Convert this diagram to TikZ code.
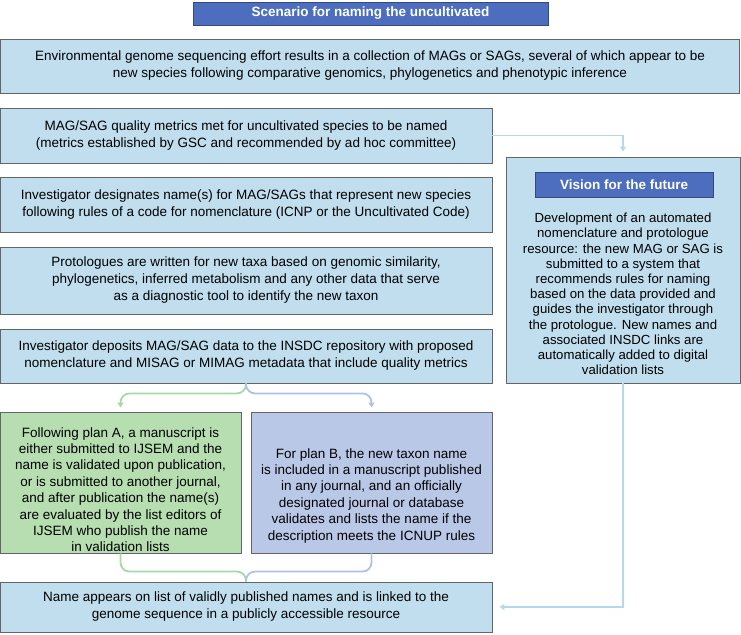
\documentclass[tikz,border=0pt]{standalone}
\usepackage{fontspec}
\setmainfont{Liberation Sans}
\usepackage{tikz}
\usepackage{xcolor}
\usetikzlibrary{arrows.meta,positioning,calc}
\definecolor{frame}{HTML}{62666A}
\definecolor{skybg}{HTML}{C0DEEE}
\definecolor{leafbg}{HTML}{B6DEB0}
\definecolor{lilacbg}{HTML}{BAC8E8}
\definecolor{headblue}{HTML}{4D6EBF}
\definecolor{headline}{HTML}{34497F}
\definecolor{skyline}{HTML}{B4D9EF}
\definecolor{leafline}{HTML}{A6DAA3}
\definecolor{lilacline}{HTML}{AFC1EA}
\tikzset{
  stagebox/.style={draw=frame,fill=skybg,line width=0.9pt,
                   align=center,inner sep=0pt,
                   font=\fontsize{13.5}{17}\selectfont},
  planAbox/.style={stagebox,fill=leafbg,minimum width=241,minimum height=141,
                   font=\fontsize{13.5}{16.4}\selectfont},
  planBbox/.style={planAbox,fill=lilacbg},
  headbar/.style={draw=headline,fill=headblue,line width=0.7pt,text=white,
                  inner sep=0pt,font=\fontsize{13.5}{16}\selectfont\bfseries},
  skylink/.style={draw=skyline,line width=1.8pt},
  leaflink/.style={draw=leafline,line width=1.8pt,rounded corners=9pt},
  lilaclink/.style={draw=lilacline,line width=1.8pt,rounded corners=9pt},
  tiparr/.style={-{Triangle[length=5pt,width=6pt]}}
}
\begin{document}
\begin{tikzpicture}[x=1pt,y=-1pt]
  \useasboundingbox (0,0) rectangle (741,634);
  % left column
  \node[headbar,minimum width=355,minimum height=23] (title) at (370.5,13.5)
    {Scenario for naming the uncultivated};
  \node[stagebox,minimum width=739,minimum height=54] (survey) at (370,66)
    {Environmental genome sequencing effort results in a collection of MAGs or SAGs, several of which appear to be\\
     new species following comparative genomics, phylogenetics and phenotypic inference};
  \node[stagebox,minimum width=492,minimum height=55] (metrics) at (246,135.5)
    {MAG/SAG quality metrics met for uncultivated species to be named\\
     (metrics established by GSC and recommended by ad hoc committee)};
  \node[stagebox,minimum width=492,minimum height=55] (naming) at (246,204.5)
    {Investigator designates name(s) for MAG/SAGs that represent new species\\
     following rules of a code for nomenclature (ICNP or the Uncultivated Code)};
  \node[stagebox,minimum width=492,minimum height=67] (protologue) at (246,280.5)
    {Protologues are written for new taxa based on genomic similarity,\\
     phylogenetics, inferred metabolism and any other data that serve\\
     as a diagnostic tool to identify the new taxon};
  \node[stagebox,minimum width=492,minimum height=54] (deposit) at (246,356)
    {Investigator deposits MAG/SAG data to the INSDC repository with proposed\\
     nomenclature and MISAG or MIMAG metadata that include quality metrics};
  \node[planAbox] (planA) at (120.5,482.5)
    {\rule{0pt}{24pt}Following plan A, a manuscript is\\
     either submitted to IJSEM and the\\
     name is validated upon publication,\\
     or is submitted to another journal,\\
     and after publication the name(s)\\
     are evaluated by the list editors of\\
     IJSEM who publish the name\\
     in validation lists};
  \node[planBbox] (planB) at (371.5,482.5)
    {\rule{0pt}{36pt}For plan B, the new taxon name\\
     is included in a manuscript published\\
     in any journal, and an officially\\
     designated journal or database\\
     validates and lists the name if the\\
     description meets the ICNUP rules};
  \node[stagebox,minimum width=492,minimum height=50] (final) at (246,607)
    {Name appears on list of validly published names and is linked to the\\
     genome sequence in a publicly accessible resource};
  % right column
  \node[stagebox,minimum width=234,minimum height=226] (vision) at (623,270) {};
  \node[headbar,minimum width=178,minimum height=25] (visiontitle) at (624,184.5)
    {Vision for the future};
  \node[align=center,inner sep=0pt,font=\fontsize{13.2}{15.2}\selectfont] (visiontext) at (623,294)
    {Development of an automated\\
     nomenclature and protologue\\
     resource: the new MAG or SAG is\\
     submitted to a system that\\
     recommends rules for naming\\
     based on the data provided and\\
     guides the investigator through\\
     the protologue. New names and\\
     associated INSDC links are\\
     automatically added to digital\\
     validation lists};
  % connectors
  \coordinate (fork) at ($(deposit.south)+(0,10)$);
  \coordinate (merge) at ($(final.north)+(0,-10)$);
  \draw[skylink,tiparr,shorten >=5pt] (metrics.east) -| (vision.north);
  \draw[skylink,tiparr,shorten >=7pt] (vision.south) |- (final.east);
  \draw[leaflink,tiparr,shorten >=4pt] (deposit.south) -- (fork) -| (planA.north);
  \draw[lilaclink,tiparr,shorten >=4pt] (deposit.south) -- (fork) -| (planB.north);
  \draw[leaflink] (planA.south) |- (merge) -- (final.north);
  \draw[lilaclink] (planB.south) |- (merge) -- (final.north);
\end{tikzpicture}
\end{document}
